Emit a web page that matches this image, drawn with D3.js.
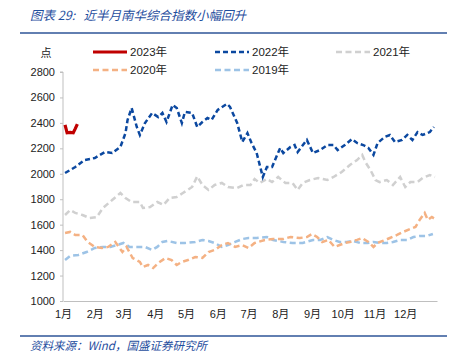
<!DOCTYPE html>
<html>
<head>
<meta charset="utf-8">
<script src="https://cdn.jsdelivr.net/npm/d3@7"></script>
<style>
  body { margin: 0; background: #fff; }
  svg text { font-family: "Liberation Sans", "Noto Sans CJK SC", sans-serif; }
</style>
</head>
<body>
<div id="container"></div>
<script>
// month labels and y ticks
const months = ['1月','2月','3月','4月','5月','6月','7月','8月','9月','10月','11月','12月'];
const yTicks = [1000, 1200, 1400, 1600, 1800, 2000, 2200, 2400, 2600, 2800];

// day-of-year for each reading, then the index value
const days2023 = [2, 4, 7, 10, 12, 14];
const vals2023 = [2384, 2322, 2325, 2322, 2355, 2391];

const days2022 = [2,12,21,31,41,48,56,61,63,67,72,75,80,87,93,97,101,107,111,116,119,126,131,136,141,145,151,160,163,170,175,180,184,189,195,199,204,209,212,215,222,226,229,238,244,251,258,264,268,275,282,287,293,298,303,307,314,319,324,331,336,341,346,351,358,362];
const vals2022 = [2006,2053,2108,2124,2171,2163,2211,2320,2423,2517,2368,2305,2399,2478,2446,2478,2407,2541,2517,2399,2486,2478,2368,2407,2438,2423,2502,2549,2525,2399,2250,2320,2242,2163,1975,2053,2053,2148,2203,2163,2211,2226,2171,2266,2163,2187,2226,2226,2187,2226,2273,2242,2226,2203,2148,2242,2289,2305,2250,2266,2305,2266,2328,2305,2328,2368];

const days2021 = [2,7,12,19,26,33,39,48,56,61,67,75,78,85,92,98,104,111,117,126,131,136,142,148,155,161,170,176,183,187,192,199,204,210,217,224,229,234,241,249,258,264,272,280,287,292,295,300,305,309,316,322,329,334,339,346,351,358,363];
const vals2021 = [1676,1715,1692,1676,1652,1660,1731,1794,1849,1810,1778,1778,1731,1739,1778,1755,1810,1818,1849,1896,1980,1912,1873,1912,1928,1896,1888,1912,1912,1959,1928,1959,1935,1975,1928,1928,1873,1928,1951,1967,1951,1975,2014,2069,2108,2148,2093,2030,1951,1935,1951,1912,1975,1896,1935,1935,1967,1990,1975];

const days2020 = [2,7,12,19,24,31,38,44,51,58,62,68,75,78,83,88,93,100,106,111,116,122,129,136,142,148,155,161,168,175,181,187,197,205,215,222,231,238,243,248,253,259,265,270,275,280,287,292,298,303,307,312,319,326,332,339,344,348,353,356,360,363];
const vals2020 = [1535,1543,1519,1519,1464,1425,1417,1425,1464,1385,1425,1338,1307,1267,1283,1259,1299,1338,1322,1283,1307,1322,1346,1338,1385,1401,1440,1456,1425,1440,1417,1456,1480,1487,1487,1503,1495,1503,1527,1503,1464,1480,1425,1440,1456,1464,1480,1495,1464,1425,1456,1472,1495,1519,1543,1566,1582,1637,1692,1637,1660,1645];

const days2019 = [2,7,15,23,31,39,46,53,59,65,72,80,87,92,97,102,111,119,129,136,142,148,155,161,168,175,181,189,199,205,215,224,234,244,251,258,264,270,277,283,290,297,303,309,316,322,329,336,342,348,355,361];
const vals2019 = [1322,1354,1362,1385,1417,1425,1425,1440,1456,1425,1425,1425,1401,1425,1464,1472,1456,1456,1464,1480,1472,1456,1425,1440,1464,1487,1495,1495,1503,1480,1464,1456,1456,1480,1480,1503,1480,1464,1464,1472,1456,1456,1464,1456,1456,1464,1480,1480,1503,1511,1511,1527];

const series = [
  { name: '2019年', days: days2019, vals: vals2019, color: '#9DC3E6', width: 2.5, dash: '6,3.5' },
  { name: '2020年', days: days2020, vals: vals2020, color: '#F4B183', width: 2.5, dash: '6,3.5' },
  { name: '2021年', days: days2021, vals: vals2021, color: '#D0D0D0', width: 2.5, dash: '6,3.5' },
  { name: '2022年', days: days2022, vals: vals2022, color: '#0B48A0', width: 2.5, dash: '5,3' },
  { name: '2023年', days: days2023, vals: vals2023, color: '#C00000', width: 3.2, dash: null }
];

const W = 458, H = 359;
const margin = { top: 72, right: 21, bottom: 58, left: 63 };
const width = W - margin.left - margin.right;
const height = H - margin.top - margin.bottom;

const svg = d3.select('#container')
  .append('svg')
  .attr('width', W)
  .attr('height', H);

// title + rules
svg.append('text')
  .attr('x', 30).attr('y', 20)
  .attr('fill', '#1F4E9E')
  .style('font-family', '"Noto Sans CJK SC", sans-serif')
  .style('font-size', '12.5px')
  .style('font-style', 'italic')
  .style('white-space', 'pre')
  .text('图表 29:   近半月南华综合指数小幅回升');

svg.append('line')
  .attr('x1', 20).attr('x2', 447).attr('y1', 33).attr('y2', 33)
  .attr('stroke', '#2E5597').attr('stroke-width', 1.5);

svg.append('line')
  .attr('x1', 20).attr('x2', 447).attr('y1', 336).attr('y2', 336)
  .attr('stroke', '#2E5597').attr('stroke-width', 1.5);

svg.append('text')
  .attr('x', 30).attr('y', 350)
  .attr('fill', '#1F4E9E')
  .style('font-family', '"Noto Sans CJK SC", sans-serif')
  .style('font-size', '11.5px')
  .style('font-style', 'italic')
  .text('资料来源：Wind，国盛证券研究所');

const g = svg.append('g')
  .attr('transform', 'translate(' + margin.left + ',' + margin.top + ')');

const xScale = d3.scaleLinear().domain([0, 365]).range([0, width]);
const yScale = d3.scaleLinear().domain([1000, 2800]).range([height, 0]);

// y axis
const yAxis = d3.axisLeft(yScale).tickValues(yTicks).tickSize(3).tickPadding(5).tickFormat(d3.format('d'));
const yG = g.append('g').call(yAxis);
yG.select('.domain').attr('stroke', '#BFBFBF').attr('d', 'M-3,0H0V' + height);
yG.selectAll('.tick line').attr('stroke', '#BFBFBF');
yG.selectAll('.tick text').attr('fill', '#222').style('font-size', '11px');

// x axis (month labels at month starts)
const monthStart = [0, 31, 59, 90, 120, 151, 181, 212, 243, 273, 304, 334];
const xAxis = d3.axisBottom(xScale).tickValues(monthStart).tickSize(0).tickPadding(9)
  .tickFormat((d, i) => months[i]);
const xG = g.append('g').attr('transform', 'translate(0,' + height + ')').call(xAxis);
xG.select('.domain').attr('stroke', '#BFBFBF');
xG.selectAll('.tick text').attr('fill', '#222').style('font-size', '11px');

// unit
svg.append('text').attr('x', 46).attr('y', 57).attr('text-anchor', 'middle')
  .style('font-size', '11px').attr('fill', '#222').text('点');

const line = d3.line()
  .x(d => xScale(d[0]))
  .y(d => yScale(d[1]));

series.forEach(s => {
  g.append('path')
    .datum(s.days.map((d, i) => [d, s.vals[i]]))
    .attr('fill', 'none')
    .attr('stroke', s.color)
    .attr('stroke-width', s.width)
    .attr('stroke-dasharray', s.dash)
    .attr('d', line);
});

// legend
const legendItems = [
  { s: series[4], x: 93, y: 52 },
  { s: series[3], x: 215, y: 52 },
  { s: series[2], x: 336, y: 52 },
  { s: series[1], x: 93, y: 70 },
  { s: series[0], x: 215, y: 70 }
];
legendItems.forEach(it => {
  svg.append('line')
    .attr('x1', it.x).attr('x2', it.x + 34)
    .attr('y1', it.y).attr('y2', it.y)
    .attr('stroke', it.s.color)
    .attr('stroke-width', it.s.width)
    .attr('stroke-dasharray', it.s.dash);
  svg.append('text')
    .attr('x', it.x + 37).attr('y', it.y + 4)
    .style('font-size', '11.5px').attr('fill', '#222')
    .text(it.s.name);
});
</script>
</body>
</html>
